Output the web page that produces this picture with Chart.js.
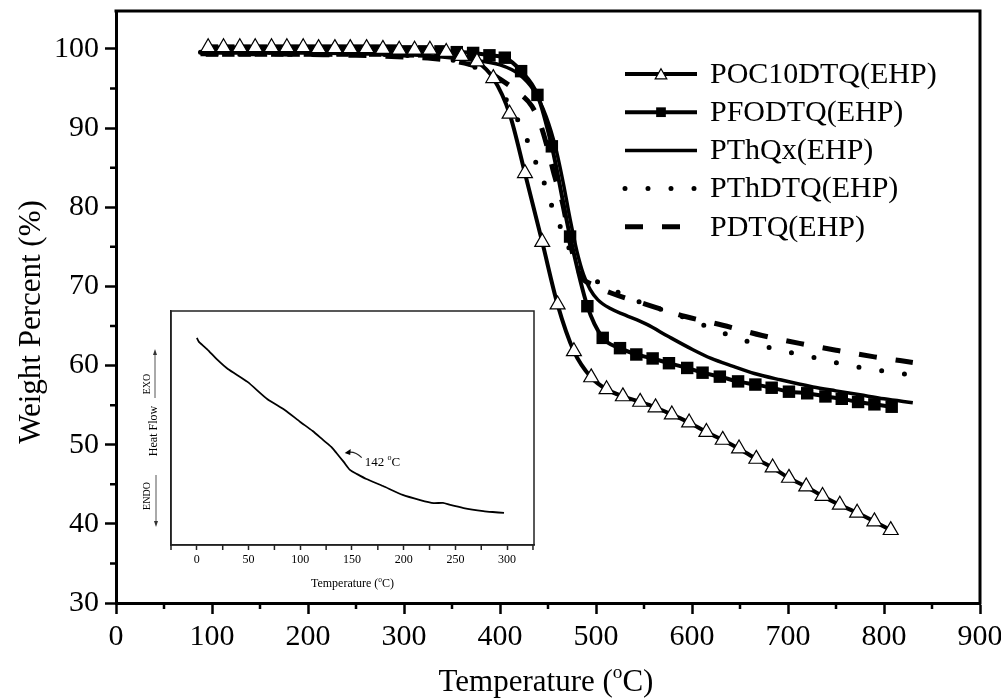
<!DOCTYPE html>
<html>
<head>
<meta charset="utf-8">
<script src="https://cdn.jsdelivr.net/npm/chart.js@4.4.0/dist/chart.umd.min.js"></script>
<style>
html, body { margin: 0; padding: 0; background: #fff; }
#wrap { position: relative; width: 1001px; height: 700px; }
#main { position: absolute; left: 0; top: 0; }
#inset { position: absolute; left: 140px; top: 300px; }
</style>
</head>
<body>
<div id="wrap">
  <canvas id="main" width="1001" height="700"></canvas>
  <canvas id="inset" width="410" height="295"></canvas>
</div>
<script>
var SERIF = "'Liberation Serif', 'Times New Roman', serif";

// TGA curves, temperature (C) / weight percent (%)
var seriesNames = ['POC10DTQ(EHP)', 'PFODTQ(EHP)', 'PThQx(EHP)', 'PThDTQ(EHP)', 'PDTQ(EHP)'];

var pocTemp = [96, 112, 129, 145, 162, 178, 195, 211, 228, 244, 261, 278, 295, 311, 327, 344, 360, 376, 393, 410, 426, 444, 460, 477, 495, 511, 528, 546, 562, 579, 597, 615, 632, 649, 667, 684, 701, 719, 736, 754, 772, 790, 807];
var pocWeight = [100.2, 100.2, 100.2, 100.2, 100.2, 100.2, 100.2, 100.1, 100.1, 100.1, 100.1, 100.0, 99.9, 99.9, 99.9, 99.6, 99.1, 98.4, 96.3, 91.8, 84.3, 75.6, 67.7, 61.8, 58.5, 57.0, 56.1, 55.4, 54.7, 53.8, 52.8, 51.6, 50.6, 49.5, 48.2, 47.1, 45.8, 44.7, 43.5, 42.4, 41.4, 40.3, 39.2];

var pfoTemp = [100, 117, 134, 151, 168, 185, 202, 219, 236, 253, 270, 287, 304, 321, 338, 355, 372, 389, 405, 422, 439, 454, 473, 491, 507, 525, 542, 559, 576, 595, 611, 629, 648, 666, 683, 701, 720, 739, 756, 773, 790, 808];
var pfoWeight = [99.8, 99.8, 99.8, 99.8, 99.8, 99.8, 99.8, 99.8, 99.8, 99.8, 99.8, 99.8, 99.7, 99.7, 99.7, 99.6, 99.5, 99.2, 98.9, 97.2, 94.2, 87.7, 76.3, 67.5, 63.5, 62.2, 61.4, 60.9, 60.3, 59.7, 59.1, 58.6, 58.0, 57.6, 57.2, 56.7, 56.5, 56.1, 55.8, 55.4, 55.1, 54.8];

var pthqxTemp = [88, 150, 200, 250, 300, 340, 370, 400, 420, 435, 448, 458, 466, 473, 480, 487, 494, 502, 515, 530, 553, 575, 601, 620, 643, 665, 692, 726, 750, 775, 800, 830];
var pthqxWeight = [99.5, 99.5, 99.5, 99.4, 99.3, 99.0, 98.6, 98.0, 96.8, 94.8, 91.5, 87.5, 83.0, 78.5, 74.5, 71.5, 69.6, 68.3, 67.2, 66.4, 65.2, 63.7, 62.0, 60.9, 59.9, 59.0, 58.2, 57.3, 56.8, 56.3, 55.8, 55.3];

var pthdtqTemp = [88, 150, 200, 250, 300, 340, 370, 390, 402, 412, 425, 434, 444, 452, 461, 471, 480, 492, 507, 532, 570, 596, 618, 642, 665, 689, 712, 736, 760, 795, 830];
var pthdtqWeight = [99.6, 99.6, 99.5, 99.4, 99.2, 98.8, 97.9, 96.4, 94.5, 92.4, 89.5, 86.6, 83.8, 80.8, 78.1, 75.1, 72.8, 71.2, 70.3, 68.7, 67.0, 65.9, 64.8, 63.7, 62.8, 62.0, 61.4, 60.8, 60.1, 59.4, 58.8];

var pdtqTemp = [88, 150, 200, 250, 300, 330, 355, 380, 400, 418, 433, 442, 449, 457, 465, 475, 485, 497, 515, 553, 593, 632, 673, 712, 752, 790, 830];
var pdtqWeight = [99.4, 99.4, 99.3, 99.2, 99.0, 98.8, 98.4, 97.6, 96.2, 94.6, 92.8, 90.5, 87.7, 83.9, 80.6, 74.5, 71.2, 70.2, 69.2, 67.7, 66.2, 65.1, 63.8, 62.8, 61.9, 61.1, 60.4];

var xTicks = [0, 100, 200, 300, 400, 500, 600, 700, 800, 900];
var xMinor = [50, 150, 250, 350, 450, 550, 650, 750, 850];
var yTicks = [30, 40, 50, 60, 70, 80, 90, 100];
var yMinor = [35, 45, 55, 65, 75, 85, 95];

// DSC inset
var dscTemp = [0, 2, 5, 10, 20, 30, 49, 68, 85, 100, 112, 122, 130, 135, 142, 148, 155, 164, 180, 199, 216, 229, 238, 245, 258, 277, 286, 297];
var heatFlow = [88.5, 86.8, 85.6, 83.6, 79.1, 75.2, 69.7, 62.4, 57.7, 52.6, 48.7, 44.9, 41.9, 39.3, 35.5, 32.1, 30.3, 28.2, 25.2, 21.4, 19.2, 17.9, 18.0, 17.1, 15.8, 14.5, 14.1, 13.7];
var dscTicks = [0, 50, 100, 150, 200, 250, 300];
var dscMinor = [-25, 25, 75, 125, 175, 225, 275, 325];
var tgLabel = 142;

function pts(xs, ys) {
    return xs.map(function(v, i) { return { x: v, y: ys[i] }; });
}

// keep chart area fixed: drop the label overhang padding chart.js adds
function noOverhang(s) {
    s.paddingLeft = 0; s.paddingRight = 0; s.paddingTop = 0; s.paddingBottom = 0;
}

// draws "text(" + superscript o + "C)" style labels
function drawSupText(ctx, parts, x, y, size, align) {
    var w = 0;
    parts.forEach(function(p) {
        ctx.font = (p.sup ? size * 0.62 : size) + 'px ' + SERIF;
        p.w = ctx.measureText(p.t).width;
        w += p.w;
    });
    var cx = align === 'left' ? x : x - w / 2;
    ctx.textAlign = 'left';
    ctx.textBaseline = 'alphabetic';
    parts.forEach(function(p) {
        ctx.font = (p.sup ? size * 0.62 : size) + 'px ' + SERIF;
        ctx.fillText(p.t, cx, p.sup ? y - size * 0.42 : y);
        cx += p.w;
    });
}

var mainDecor = {
    id: 'mainDecor',
    afterDraw: function(chart) {
        var ctx = chart.ctx, a = chart.chartArea;
        var xs = chart.scales.x, ys = chart.scales.y;
        ctx.save();
        ctx.strokeStyle = '#000';
        ctx.fillStyle = '#000';
        // frame top/right
        ctx.lineWidth = 3;
        ctx.beginPath();
        ctx.moveTo(a.left - 1.5, a.top);
        ctx.lineTo(a.right, a.top);
        ctx.lineTo(a.right, a.bottom + 1.5);
        ctx.stroke();
        // minor ticks
        ctx.lineWidth = 2.5;
        ctx.beginPath();
        xMinor.forEach(function(v) {
            var p = xs.getPixelForValue(v);
            ctx.moveTo(p, a.bottom); ctx.lineTo(p, a.bottom + 6);
        });
        yMinor.forEach(function(v) {
            var p = ys.getPixelForValue(v);
            ctx.moveTo(a.left, p); ctx.lineTo(a.left - 6, p);
        });
        ctx.stroke();

        // legend
        var x0 = 625, x1 = 697, rowY = 74, rowH = 38.2;
        chart.data.datasets.forEach(function(ds, i) {
            var yy = rowY + i * rowH;
            ctx.save();
            ctx.lineWidth = ds.borderWidth;
            ctx.lineCap = ds.borderCapStyle || 'butt';
            ctx.setLineDash(ds.borderDash || []);
            ctx.beginPath();
            ctx.moveTo(x0, yy); ctx.lineTo(x1, yy);
            ctx.stroke();
            ctx.restore();
            if (ds.pointRadius > 0) {
                ctx.save();
                ctx.fillStyle = ds.pointBackgroundColor;
                ctx.strokeStyle = '#000';
                ctx.lineWidth = ds.pointBorderWidth;
                Chart.helpers.drawPoint(ctx, {
                    pointStyle: ds.pointStyle, radius: ds.pointRadius * 0.78,
                    borderWidth: ds.pointBorderWidth, rotation: 0
                }, (x0 + x1) / 2, yy + (ds.pointStyle === 'triangle' ? 1.5 : 0));
                ctx.restore();
            }
            ctx.font = '30px ' + SERIF;
            ctx.textAlign = 'left';
            ctx.textBaseline = 'middle';
            ctx.fillText(ds.label, 710, yy + 1);
        });

        // axis titles
        drawSupText(ctx, [{ t: 'Temperature (' }, { t: 'o', sup: true }, { t: 'C)' }], 546, 691, 31);
        ctx.save();
        ctx.translate(32, 322);
        ctx.rotate(-Math.PI / 2);
        ctx.font = '31px ' + SERIF;
        ctx.textAlign = 'center';
        ctx.textBaseline = 'middle';
        ctx.fillText('Weight Percent (%)', 0, 0);
        ctx.restore();
        ctx.restore();
    }
};

var mainChart = new Chart(document.getElementById('main').getContext('2d'), {
    type: 'line',
    data: {
        datasets: [{
            label: seriesNames[0],
            data: pts(pocTemp, pocWeight),
            borderColor: '#000', borderWidth: 4,
            pointStyle: 'triangle', pointRadius: 8.6,
            pointBackgroundColor: '#fff', pointBorderColor: '#000', pointBorderWidth: 1.2
        }, {
            label: seriesNames[1],
            data: pts(pfoTemp, pfoWeight),
            borderColor: '#000', borderWidth: 4,
            pointStyle: 'rect', pointRadius: 8.8,
            pointBackgroundColor: '#000', pointBorderColor: '#000', pointBorderWidth: 0
        }, {
            label: seriesNames[2],
            data: pts(pthqxTemp, pthqxWeight),
            borderColor: '#000', borderWidth: 3.5, pointRadius: 0
        }, {
            label: seriesNames[3],
            data: pts(pthdtqTemp, pthdtqWeight),
            borderColor: '#000', borderWidth: 5, pointRadius: 0,
            borderDash: [0, 23], borderCapStyle: 'round'
        }, {
            label: seriesNames[4],
            data: pts(pdtqTemp, pdtqWeight),
            borderColor: '#000', borderWidth: 5, pointRadius: 0,
            borderDash: [18, 19]
        }]
    },
    options: {
        responsive: false,
        animation: false,
        cubicInterpolationMode: 'monotone',
        layout: { padding: { top: 11, right: 21, left: 0, bottom: 0 } },
        plugins: { legend: { display: false }, tooltip: { enabled: false } },
        scales: {
            x: {
                type: 'linear', min: 0, max: 900,
                afterFit: function(s) { s.height = 97; noOverhang(s); },
                afterBuildTicks: function(s) { s.ticks = xTicks.map(function(v) { return { value: v }; }); },
                grid: { drawOnChartArea: false, tickLength: 11, tickWidth: 2.5, tickColor: '#000' },
                border: { color: '#000', width: 3 },
                ticks: { color: '#000', font: { family: SERIF, size: 30 }, padding: 5, maxRotation: 0, autoSkip: false }
            },
            y: {
                type: 'linear', min: 30, max: 104.8,
                afterFit: function(s) { s.width = 116; noOverhang(s); },
                afterBuildTicks: function(s) { s.ticks = yTicks.map(function(v) { return { value: v }; }); },
                grid: { drawOnChartArea: false, tickLength: 11, tickWidth: 2.5, tickColor: '#000' },
                border: { color: '#000', width: 3 },
                ticks: { color: '#000', font: { family: SERIF, size: 30 }, padding: 6, autoSkip: false }
            }
        }
    },
    plugins: [mainDecor]
});

var insetDecor = {
    id: 'insetDecor',
    afterDraw: function(chart) {
        var ctx = chart.ctx, a = chart.chartArea;
        var xs = chart.scales.x, ys = chart.scales.y;
        ctx.save();
        ctx.strokeStyle = '#222';
        ctx.fillStyle = '#000';
        ctx.lineWidth = 1.5;
        ctx.strokeRect(a.left, a.top, a.right - a.left, a.bottom - a.top);
        ctx.beginPath();
        dscMinor.forEach(function(v) {
            var p = xs.getPixelForValue(v);
            ctx.moveTo(p, a.bottom); ctx.lineTo(p, a.bottom + 5);
        });
        ctx.stroke();

        // Tg annotation
        var tx = xs.getPixelForValue(tgLabel) + 1, ty = ys.getPixelForValue(39.5);
        ctx.lineWidth = 1.2;
        ctx.beginPath();
        ctx.moveTo(tx + 17, ty + 5);
        ctx.quadraticCurveTo(tx + 10, ty - 2, tx + 2, ty);
        ctx.stroke();
        ctx.beginPath();
        ctx.moveTo(tx, ty + 0.5); ctx.lineTo(tx + 6, ty - 3.5); ctx.lineTo(tx + 5.5, ty + 2.5);
        ctx.closePath(); ctx.fill();
        drawSupText(ctx, [{ t: tgLabel + ' ' }, { t: 'o', sup: true }, { t: 'C' }], tx + 20, ty + 13, 13, 'left');

        // axis title
        drawSupText(ctx, [{ t: 'Temperature (' }, { t: 'o', sup: true }, { t: 'C)' }], (a.left + a.right) / 2, 287, 12);

        // y label with EXO / ENDO arrows
        ctx.font = '12px ' + SERIF;
        ctx.textAlign = 'center';
        ctx.textBaseline = 'middle';
        ctx.save(); ctx.translate(14, 131); ctx.rotate(-Math.PI / 2); ctx.fillText('Heat Flow', 0, 0); ctx.restore();
        ctx.font = '10px ' + SERIF;
        ctx.save(); ctx.translate(7, 84); ctx.rotate(-Math.PI / 2); ctx.fillText('EXO', 0, 0); ctx.restore();
        ctx.save(); ctx.translate(7, 196); ctx.rotate(-Math.PI / 2); ctx.fillText('ENDO', 0, 0); ctx.restore();
        ctx.strokeStyle = '#555';
        ctx.lineWidth = 1;
        ctx.beginPath();
        ctx.moveTo(15, 98); ctx.lineTo(15, 52);
        ctx.moveTo(16, 175); ctx.lineTo(16, 224);
        ctx.stroke();
        ctx.fillStyle = '#333';
        ctx.beginPath(); ctx.moveTo(15, 49); ctx.lineTo(13, 55); ctx.lineTo(17, 55); ctx.closePath(); ctx.fill();
        ctx.beginPath(); ctx.moveTo(16, 227); ctx.lineTo(14, 221); ctx.lineTo(18, 221); ctx.closePath(); ctx.fill();
        ctx.restore();
    }
};

var insetChart = new Chart(document.getElementById('inset').getContext('2d'), {
    type: 'line',
    data: {
        datasets: [{
            label: 'DSC',
            data: pts(dscTemp, heatFlow),
            borderColor: '#000', borderWidth: 1.8, pointRadius: 0, tension: 0.2
        }]
    },
    options: {
        responsive: false,
        animation: false,
        layout: { padding: { top: 11, right: 16, left: 0, bottom: 0 } },
        plugins: { legend: { display: false }, tooltip: { enabled: false } },
        scales: {
            x: {
                type: 'linear', min: -25, max: 326,
                afterFit: function(s) { s.height = 50; noOverhang(s); },
                afterBuildTicks: function(s) { s.ticks = dscTicks.map(function(v) { return { value: v }; }); },
                grid: { drawOnChartArea: false, tickLength: 5, tickWidth: 1.5, tickColor: '#222' },
                border: { color: '#222', width: 1.5 },
                ticks: { color: '#000', font: { family: SERIF, size: 12 }, padding: 3, maxRotation: 0, autoSkip: false }
            },
            y: {
                type: 'linear', min: 0, max: 100,
                afterFit: function(s) { s.width = 31; noOverhang(s); },
                grid: { display: false },
                border: { color: '#222', width: 1.5 },
                ticks: { display: false }
            }
        }
    },
    plugins: [insetDecor]
});
</script>
</body>
</html>
